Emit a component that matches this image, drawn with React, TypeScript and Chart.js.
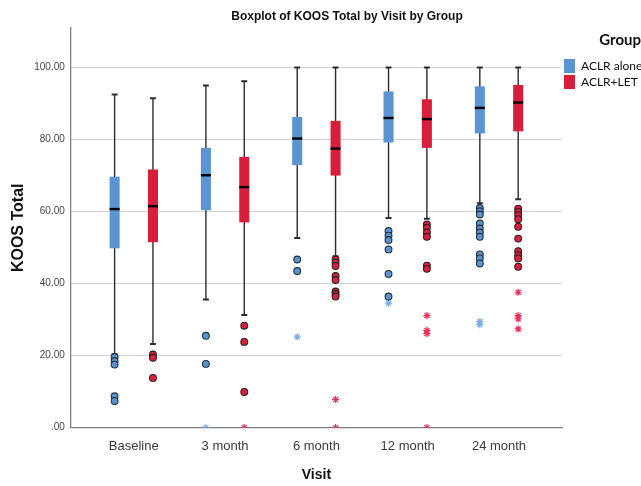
import React, { useEffect, useRef } from 'react';
import { Chart, registerables } from 'chart.js';

Chart.register(...registerables);

// ---------- data ----------
const categories = ['Baseline', '3 month', '6 month', '12 month', '24 month'];
const groups = ['ACLR alone', 'ACLR+LET'];
const yTicks = [0, 20, 40, 60, 80, 100];

// ACLR alone
const aloneLow = [20.4, 35.6, 52.7, 58.2, 62.3];
const aloneQ1 = [49.8, 60.4, 72.9, 79.2, 81.7];
const aloneMedian = [60.7, 70.1, 80.3, 86.0, 88.8];
const aloneQ3 = [69.7, 77.7, 86.3, 93.4, 94.8];
const aloneHigh = [92.5, 95.0, 100, 100, 100];
const aloneOutliers = [
  [19.6, 18.5, 17.5, 8.7, 7.4],
  [25.5, 17.7],
  [46.7, 43.5],
  [54.6, 53.3, 52.1, 49.5, 42.7, 36.4],
  [61.0, 60.1, 59.2, 56.7, 55.3, 54.2, 53.0, 48.1, 47.0, 45.6],
];
const aloneExtremes = [[], [0], [25.2], [34.6], [29.5, 28.6]];

// ACLR+LET
const letLow = [23.2, 31.3, 47.6, 58.0, 63.4];
const letQ1 = [51.5, 57.0, 70.0, 77.7, 82.3];
const letMedian = [61.5, 66.8, 77.5, 85.7, 90.3];
const letQ3 = [71.7, 75.2, 85.2, 91.2, 95.2];
const letHigh = [91.5, 96.2, 100, 100, 100];
const letOutliers = [
  [20.3, 19.4, 13.8],
  [28.3, 23.8, 9.9],
  [46.7, 45.8, 44.9, 42.1, 41.0, 37.8, 37.1, 36.4],
  [56.4, 55.5, 54.2, 53.0, 45.0, 44.1],
  [60.8, 59.9, 59.0, 57.9, 55.8, 52.5, 49.0, 47.9, 47.0, 44.7],
];
const letExtremes = [[], [0], [7.8, 0], [31.1, 27.0, 26.1, 0], [37.6, 31.1, 30.2, 27.4]];

// ---------- styles ----------
const boxColors = ['#5b95d1', '#d91e3b'];
const circleColors = ['#5a94d0', '#dd1f3c'];
const starColors = ['#78aee6', '#ee2f5a'];
const groupOffset = [-0.21, 0.21];
const boxWidthUnits = 0.11;
const capWidthUnits = 0.065;
const axisFont = 'Liberation Sans, Arial, sans-serif';
const legendFont = 'Lato, "Open Sans", sans-serif';

const boxStats = [
  { low: aloneLow, q1: aloneQ1, med: aloneMedian, q3: aloneQ3, high: aloneHigh },
  { low: letLow, q1: letQ1, med: letMedian, q3: letQ3, high: letHigh },
];

const boxPlugin = {
  id: 'boxPlugin',
  beforeDatasetsDraw(chart: any) {
    const { ctx } = chart;
    const xs = chart.scales.x;
    const ys = chart.scales.y;
    const unit = xs.getPixelForValue(1) - xs.getPixelForValue(0);
    const halfBox = (boxWidthUnits * unit) / 2;
    const halfCap = (capWidthUnits * unit) / 2;
    ctx.save();
    boxStats.forEach((s, g) => {
      categories.forEach((_, i) => {
        const xc = xs.getPixelForValue(i + groupOffset[g]);
        const yLow = ys.getPixelForValue(s.low[i]);
        const yHigh = ys.getPixelForValue(s.high[i]);
        const yQ1 = ys.getPixelForValue(s.q1[i]);
        const yQ3 = ys.getPixelForValue(s.q3[i]);
        const yMed = ys.getPixelForValue(s.med[i]);
        // whisker
        ctx.strokeStyle = '#2b2b2b';
        ctx.lineWidth = 1.4;
        ctx.beginPath();
        ctx.moveTo(xc, yLow);
        ctx.lineTo(xc, yHigh);
        ctx.stroke();
        // caps
        ctx.lineWidth = 2;
        ctx.beginPath();
        ctx.moveTo(xc - halfCap, yLow);
        ctx.lineTo(xc + halfCap, yLow);
        ctx.moveTo(xc - halfCap, yHigh);
        ctx.lineTo(xc + halfCap, yHigh);
        ctx.stroke();
        // box
        ctx.fillStyle = boxColors[g];
        ctx.fillRect(xc - halfBox, yQ3, halfBox * 2, yQ1 - yQ3);
        // median
        ctx.strokeStyle = '#000000';
        ctx.lineWidth = 2.4;
        ctx.beginPath();
        ctx.moveTo(xc - halfBox, yMed);
        ctx.lineTo(xc + halfBox, yMed);
        ctx.stroke();
      });
    });
    ctx.restore();
  },
};

const titlePlugin = {
  id: 'mainTitle',
  afterDraw(chart: any) {
    const { ctx } = chart;
    ctx.save();
    ctx.font = `bold 12px ${axisFont}`;
    ctx.fillStyle = '#111111';
    ctx.textAlign = 'center';
    ctx.textBaseline = 'middle';
    ctx.fillText('Boxplot of KOOS Total by Visit by Group', 347, 17);
    ctx.restore();
  },
};

const toPoints = (lists: number[][], g: number) =>
  lists.flatMap((vals, i) => vals.map((v) => ({ x: i + groupOffset[g], y: v })));

export default function App() {
  const ref = useRef<HTMLCanvasElement>(null);
  useEffect(() => {
    if (!ref.current) return;
    const chart = new Chart(ref.current, {
      type: 'scatter',
      data: {
        datasets: [
          {
            label: groups[0],
            data: toPoints(aloneOutliers, 0),
            pointStyle: 'circle',
            pointRadius: 3.4,
            backgroundColor: circleColors[0],
            borderColor: '#22303c',
            borderWidth: 1.1,
          },
          {
            label: groups[0] + ' extreme',
            data: toPoints(aloneExtremes, 0),
            pointStyle: 'star',
            pointRadius: 3.6,
            backgroundColor: starColors[0],
            borderColor: starColors[0],
            borderWidth: 1.2,
          },
          {
            label: groups[1],
            data: toPoints(letOutliers, 1),
            pointStyle: 'circle',
            pointRadius: 3.4,
            backgroundColor: circleColors[1],
            borderColor: '#2a1f22',
            borderWidth: 1.1,
          },
          {
            label: groups[1] + ' extreme',
            data: toPoints(letExtremes, 1),
            pointStyle: 'star',
            pointRadius: 3.6,
            backgroundColor: starColors[1],
            borderColor: starColors[1],
            borderWidth: 1.2,
          },
        ],
      },
      options: {
        animation: false,
        responsive: false,
        events: [],
        layout: { padding: { top: 28, left: 0, right: 0, bottom: 0 } },
        scales: {
          x: {
            type: 'linear',
            min: -0.69,
            max: 4.69,
            afterBuildTicks: (scale: any) => {
              scale.ticks = categories.map((_, i) => ({ value: i }));
            },
            grid: { display: false, drawTicks: false },
            border: { display: true, color: '#808080', width: 1.3 },
            ticks: {
              autoSkip: false,
              maxRotation: 0,
              padding: 11,
              color: '#3a3a3a',
              font: { family: axisFont, size: 13 },
              callback: (v: any) => categories[v as number] ?? '',
            },
            title: {
              display: true,
              text: 'Visit',
              color: '#111111',
              font: { family: axisFont, size: 14, weight: 'bold' },
              padding: { top: 2, bottom: 2 },
            },
          },
          y: {
            type: 'linear',
            min: 0,
            max: 111,
            afterBuildTicks: (scale: any) => {
              scale.ticks = yTicks.map((v) => ({ value: v }));
            },
            grid: { color: '#d3d3d3', lineWidth: 1, drawTicks: false },
            border: { display: true, color: '#808080', width: 1.3 },
            ticks: {
              padding: 6,
              color: '#454545',
              font: { family: axisFont, size: 10 },
              callback: (v: any) => (Number(v) === 0 ? '.00' : Number(v).toFixed(2)),
            },
            title: {
              display: true,
              text: 'KOOS Total',
              color: '#111111',
              font: { family: axisFont, size: 16, weight: 'bold' },
              padding: { top: 9, bottom: 0 },
            },
          },
        },
        plugins: {
          tooltip: { enabled: false },
          title: { display: false },
          legend: {
            display: true,
            position: 'right',
            align: 'start',
            maxWidth: 79,
            onClick: () => {},
            title: {
              display: true,
              text: 'Group',
              position: 'end',
              color: '#111111',
              font: { family: legendFont, size: 15, weight: 'bold' },
              padding: { top: 5, bottom: 6 },
            },
            labels: {
              boxWidth: 11,
              boxHeight: 14,
              padding: 2,
              color: '#111111',
              font: { family: legendFont, size: 12 },
              generateLabels: () =>
                groups.map((g, k) => ({
                  text: g,
                  fillStyle: boxColors[k],
                  strokeStyle: boxColors[k],
                  lineWidth: 0,
                  hidden: false,
                  datasetIndex: k * 2,
                })),
            },
          },
        },
      } as any,
      plugins: [boxPlugin, titlePlugin],
    });
    return () => chart.destroy();
  }, []);

  return (
    <div style={{ position: 'absolute', left: 0, top: 0, width: 641, height: 486, background: '#ffffff' }}>
      <canvas ref={ref} width={641} height={486} style={{ display: 'block' }} />
    </div>
  );
}
